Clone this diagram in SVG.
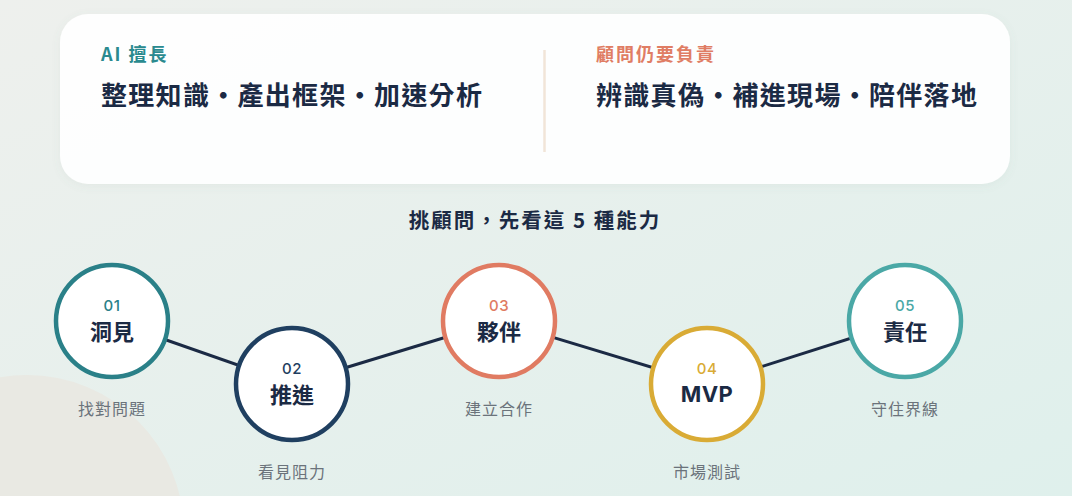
<svg xmlns="http://www.w3.org/2000/svg" width="1072" height="496" viewBox="0 0 1072 496">
  <defs>
    <linearGradient id="bg" x1="0" y1="0" x2="1" y2="1">
      <stop offset="0" stop-color="#eef0ed"/>
      <stop offset="1" stop-color="#dff0ec"/>
    </linearGradient>
    <filter id="shadow" x="-5%" y="-20%" width="110%" height="140%">
      <feDropShadow dx="0" dy="2" stdDeviation="4" flood-color="#6a8a80" flood-opacity="0.08"/>
    </filter>
    <style>
      .cjk { font-family: "Noto Sans CJK TC", "Noto Sans", sans-serif; }
      .lat { font-family: Inter, "Noto Sans", sans-serif; }
      .tag { font-size: 18px; font-weight: 700; letter-spacing: 2px; }
      .big { font-size: 26px; font-weight: 700; letter-spacing: 1.3px; fill: #1b2a44; }
      .heading { font-size: 20.5px; font-weight: 700; letter-spacing: 2px; fill: #1b2a44; }
      .ring { fill: #ffffff; stroke-width: 4.5; }
      .num { font-size: 15px; font-weight: 500; letter-spacing: 0.5px; text-anchor: middle; }
      .title { font-size: 22px; font-weight: 700; fill: #1b2a44; text-anchor: middle; }
      .sub { font-size: 16px; font-weight: 400; fill: #6b737b; letter-spacing: 1px; text-anchor: middle; }
      .link { stroke: #1b2a44; stroke-width: 3; fill: none; }
    </style>
  </defs>

  <rect x="0" y="0" width="1072" height="496" fill="url(#bg)"/>
  <circle cx="27" cy="532" r="157" fill="#e9e9e3"/>

  <g id="card">
    <rect x="60" y="14" width="950" height="170" rx="28" fill="#ffffff" fill-opacity="0.94" filter="url(#shadow)"/>
    <line x1="544.5" y1="50" x2="544.5" y2="152" stroke="#f1e5d8" stroke-width="2.5"/>
    <text class="cjk tag" x="101" y="61" fill="#2a8a8f">AI 擅長</text>
    <text class="cjk big" x="101" y="105">整理知識・產出框架・加速分析</text>
    <text class="cjk tag" x="596" y="61" fill="#e07d64">顧問仍要負責</text>
    <text class="cjk big" x="596" y="105">辨識真偽・補進現場・陪伴落地</text>
  </g>

  <text class="cjk heading" x="535" y="228" text-anchor="middle">挑顧問，先看這 5 種能力</text>

  <g id="connectors">
    <line class="link" x1="112" y1="321" x2="292" y2="384"/>
    <line class="link" x1="292" y1="384" x2="499" y2="321"/>
    <line class="link" x1="499" y1="321" x2="707" y2="384"/>
    <line class="link" x1="707" y1="384" x2="905" y2="321"/>
  </g>

  <g id="node-01">
    <circle class="ring" cx="112" cy="321" r="56" stroke="#2a8088"/>
    <text class="lat num" x="112" y="311" fill="#2a8088">01</text>
    <text class="cjk title" x="112" y="339.5">洞見</text>
    <text class="cjk sub" x="112" y="415">找對問題</text>
  </g>

  <g id="node-02">
    <circle class="ring" cx="292" cy="384" r="56" stroke="#1f3f60"/>
    <text class="lat num" x="292" y="374" fill="#1f3f60">02</text>
    <text class="cjk title" x="292" y="402.5">推進</text>
    <text class="cjk sub" x="292" y="478">看見阻力</text>
  </g>

  <g id="node-03">
    <circle class="ring" cx="499" cy="321" r="56" stroke="#e07b62"/>
    <text class="lat num" x="499" y="311" fill="#e07b62">03</text>
    <text class="cjk title" x="499" y="339.5">夥伴</text>
    <text class="cjk sub" x="499" y="415">建立合作</text>
  </g>

  <g id="node-04">
    <circle class="ring" cx="707" cy="384" r="56" stroke="#d9ab35"/>
    <text class="lat num" x="707" y="374" fill="#d9ab35">04</text>
    <text class="lat title" x="707" y="401.5" font-weight="600" letter-spacing="0.5">MVP</text>
    <text class="cjk sub" x="707" y="478">市場測試</text>
  </g>

  <g id="node-05">
    <circle class="ring" cx="905" cy="321" r="56" stroke="#4aa8a6"/>
    <text class="lat num" x="905" y="311" fill="#4aa8a6">05</text>
    <text class="cjk title" x="905" y="339.5">責任</text>
    <text class="cjk sub" x="905" y="415">守住界線</text>
  </g>
</svg>
